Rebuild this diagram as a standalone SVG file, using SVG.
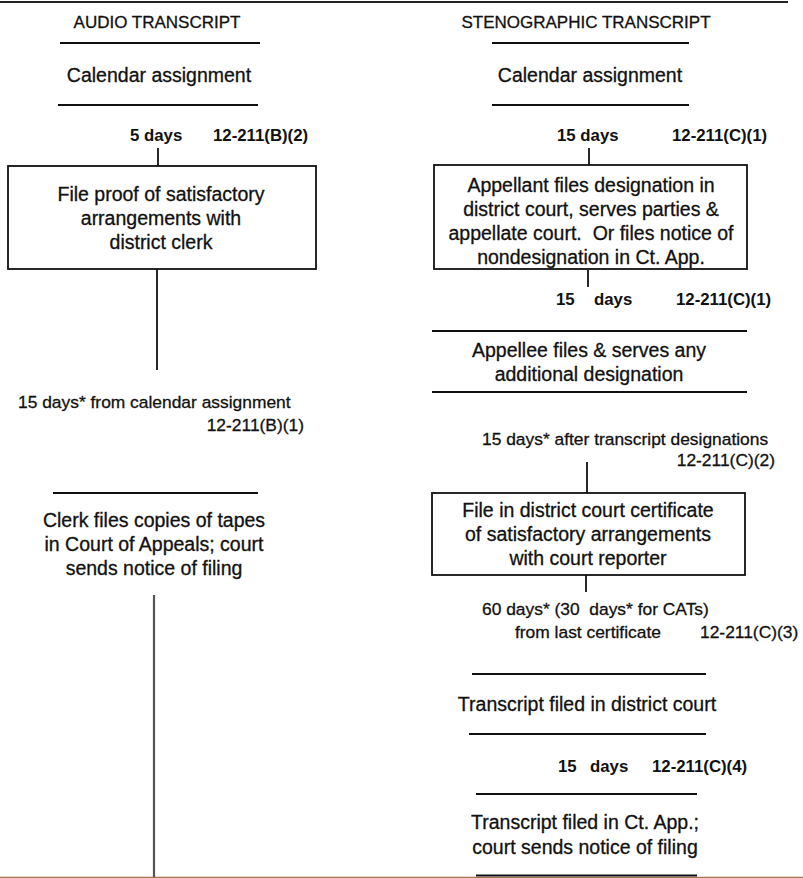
<svg xmlns="http://www.w3.org/2000/svg" width="803" height="878" viewBox="0 0 803 878">
<style>
text{font-family:"Liberation Sans",Arial,sans-serif;fill:#111;stroke:#111;stroke-width:0.3}
.h{font-size:17px}
.t{font-size:19.5px;text-anchor:middle}
.l{font-size:17.4px}
.b{font-size:16.8px;font-weight:bold;stroke-width:0}
.rule{stroke:#111;stroke-width:1.8;fill:none}
.box{stroke:#111;stroke-width:1.8;fill:#fff}
.c{stroke:#111;stroke-width:1.8;fill:none}
</style>
<rect width="803" height="878" fill="#fff"/>
<line x1="0" y1="2" x2="788" y2="2" stroke="#222" stroke-width="2"/>
<line x1="0" y1="877.5" x2="803" y2="877.5" stroke="#a07850" stroke-width="1.5"/>

<g id="connectors">
<line class="c" x1="158" y1="148" x2="158" y2="166"/>
<line class="c" x1="157" y1="269" x2="157" y2="370"/>
<line x1="154" y1="595" x2="154" y2="877" stroke="#555" stroke-width="2.2"/>
<line class="c" x1="589" y1="148" x2="589" y2="165"/>
<line class="c" x1="588" y1="270" x2="588" y2="287"/>
<line class="c" x1="587" y1="462" x2="587" y2="493"/>
<line class="c" x1="586" y1="575" x2="586" y2="592"/>
</g>

<g id="audio-header"><text class="h" x="157" y="28" text-anchor="middle">AUDIO TRANSCRIPT</text></g>
<g id="steno-header"><text class="h" x="586" y="28" text-anchor="middle">STENOGRAPHIC TRANSCRIPT</text></g>

<g id="audio-calendar">
<line class="rule" x1="60" y1="43" x2="260" y2="43"/>
<text class="t" x="159" y="82">Calendar assignment</text>
<line class="rule" x1="58" y1="105" x2="258" y2="105"/>
</g>

<g id="audio-label-1">
<text class="b" x="130" y="141">5 days</text>
<text class="b" x="213" y="141">12-211(B)(2)</text>
</g>

<g id="audio-proof">
<rect class="box" x="8" y="166" width="308" height="103"/>
<text class="t" x="161" y="201">File proof of satisfactory</text>
<text class="t" x="161" y="225">arrangements with</text>
<text class="t" x="161" y="249">district clerk</text>
</g>

<g id="audio-label-2">
<text class="l" x="18" y="408">15 days* from calendar assignment</text>
<text class="l" x="304" y="431" text-anchor="end">12-211(B)(1)</text>
</g>

<g id="audio-clerk">
<line class="rule" x1="53" y1="493" x2="258" y2="493"/>
<text class="t" x="154" y="527">Clerk files copies of tapes</text>
<text class="t" x="154" y="551">in Court of Appeals; court</text>
<text class="t" x="154" y="575">sends notice of filing</text>
</g>

<g id="steno-calendar">
<line class="rule" x1="492" y1="43" x2="689" y2="43"/>
<text class="t" x="590" y="82">Calendar assignment</text>
<line class="rule" x1="492" y1="105" x2="689" y2="105"/>
</g>

<g id="steno-label-1">
<text class="b" x="557" y="141">15 days</text>
<text class="b" x="672" y="141">12-211(C)(1)</text>
</g>

<g id="steno-designation">
<rect class="box" x="434" y="165" width="313" height="104"/>
<text class="t" x="591" y="192">Appellant files designation in</text>
<text class="t" x="591" y="216">district court, serves parties &amp;</text>
<text class="t" x="591" y="240" xml:space="preserve">appellate court.  Or files notice of</text>
<text class="t" x="591" y="264">nondesignation in Ct. App.</text>
</g>

<g id="steno-label-2">
<text class="b" x="556" y="305">15</text>
<text class="b" x="594" y="305">days</text>
<text class="b" x="676" y="305">12-211(C)(1)</text>
</g>

<g id="steno-appellee">
<line class="rule" x1="432" y1="331" x2="747" y2="331"/>
<text class="t" x="589" y="357">Appellee files &amp; serves any</text>
<text class="t" x="589" y="381">additional designation</text>
<line class="rule" x1="432" y1="392" x2="747" y2="392"/>
</g>

<g id="steno-label-3">
<text class="l" x="482" y="445">15 days* after transcript designations</text>
<text class="l" x="775" y="466" text-anchor="end">12-211(C)(2)</text>
</g>

<g id="steno-certificate">
<rect class="box" x="432" y="493" width="313" height="82"/>
<text class="t" x="588" y="517">File in district court certificate</text>
<text class="t" x="588" y="541">of satisfactory arrangements</text>
<text class="t" x="588" y="565">with court reporter</text>
</g>

<g id="steno-label-4">
<text class="l" x="482" y="615" xml:space="preserve">60 days* (30  days* for CATs)</text>
<text class="l" x="515" y="638">from last certificate</text>
<text class="l" x="700" y="638">12-211(C)(3)</text>
</g>

<g id="steno-filed-district">
<line class="rule" x1="472" y1="674" x2="706" y2="674"/>
<text class="t" x="587" y="711">Transcript filed in district court</text>
<line class="rule" x1="469" y1="734" x2="706" y2="734"/>
</g>

<g id="steno-label-5">
<text class="b" x="558" y="772">15</text>
<text class="b" x="590" y="772">days</text>
<text class="b" x="652" y="772">12-211(C)(4)</text>
</g>

<g id="steno-filed-app">
<line class="rule" x1="476" y1="794" x2="697" y2="794"/>
<text class="t" x="585" y="829">Transcript filed in Ct. App.;</text>
<text class="t" x="585" y="854">court sends notice of filing</text>
<line class="rule" x1="476" y1="875.5" x2="697" y2="875.5"/>
</g>
</svg>
